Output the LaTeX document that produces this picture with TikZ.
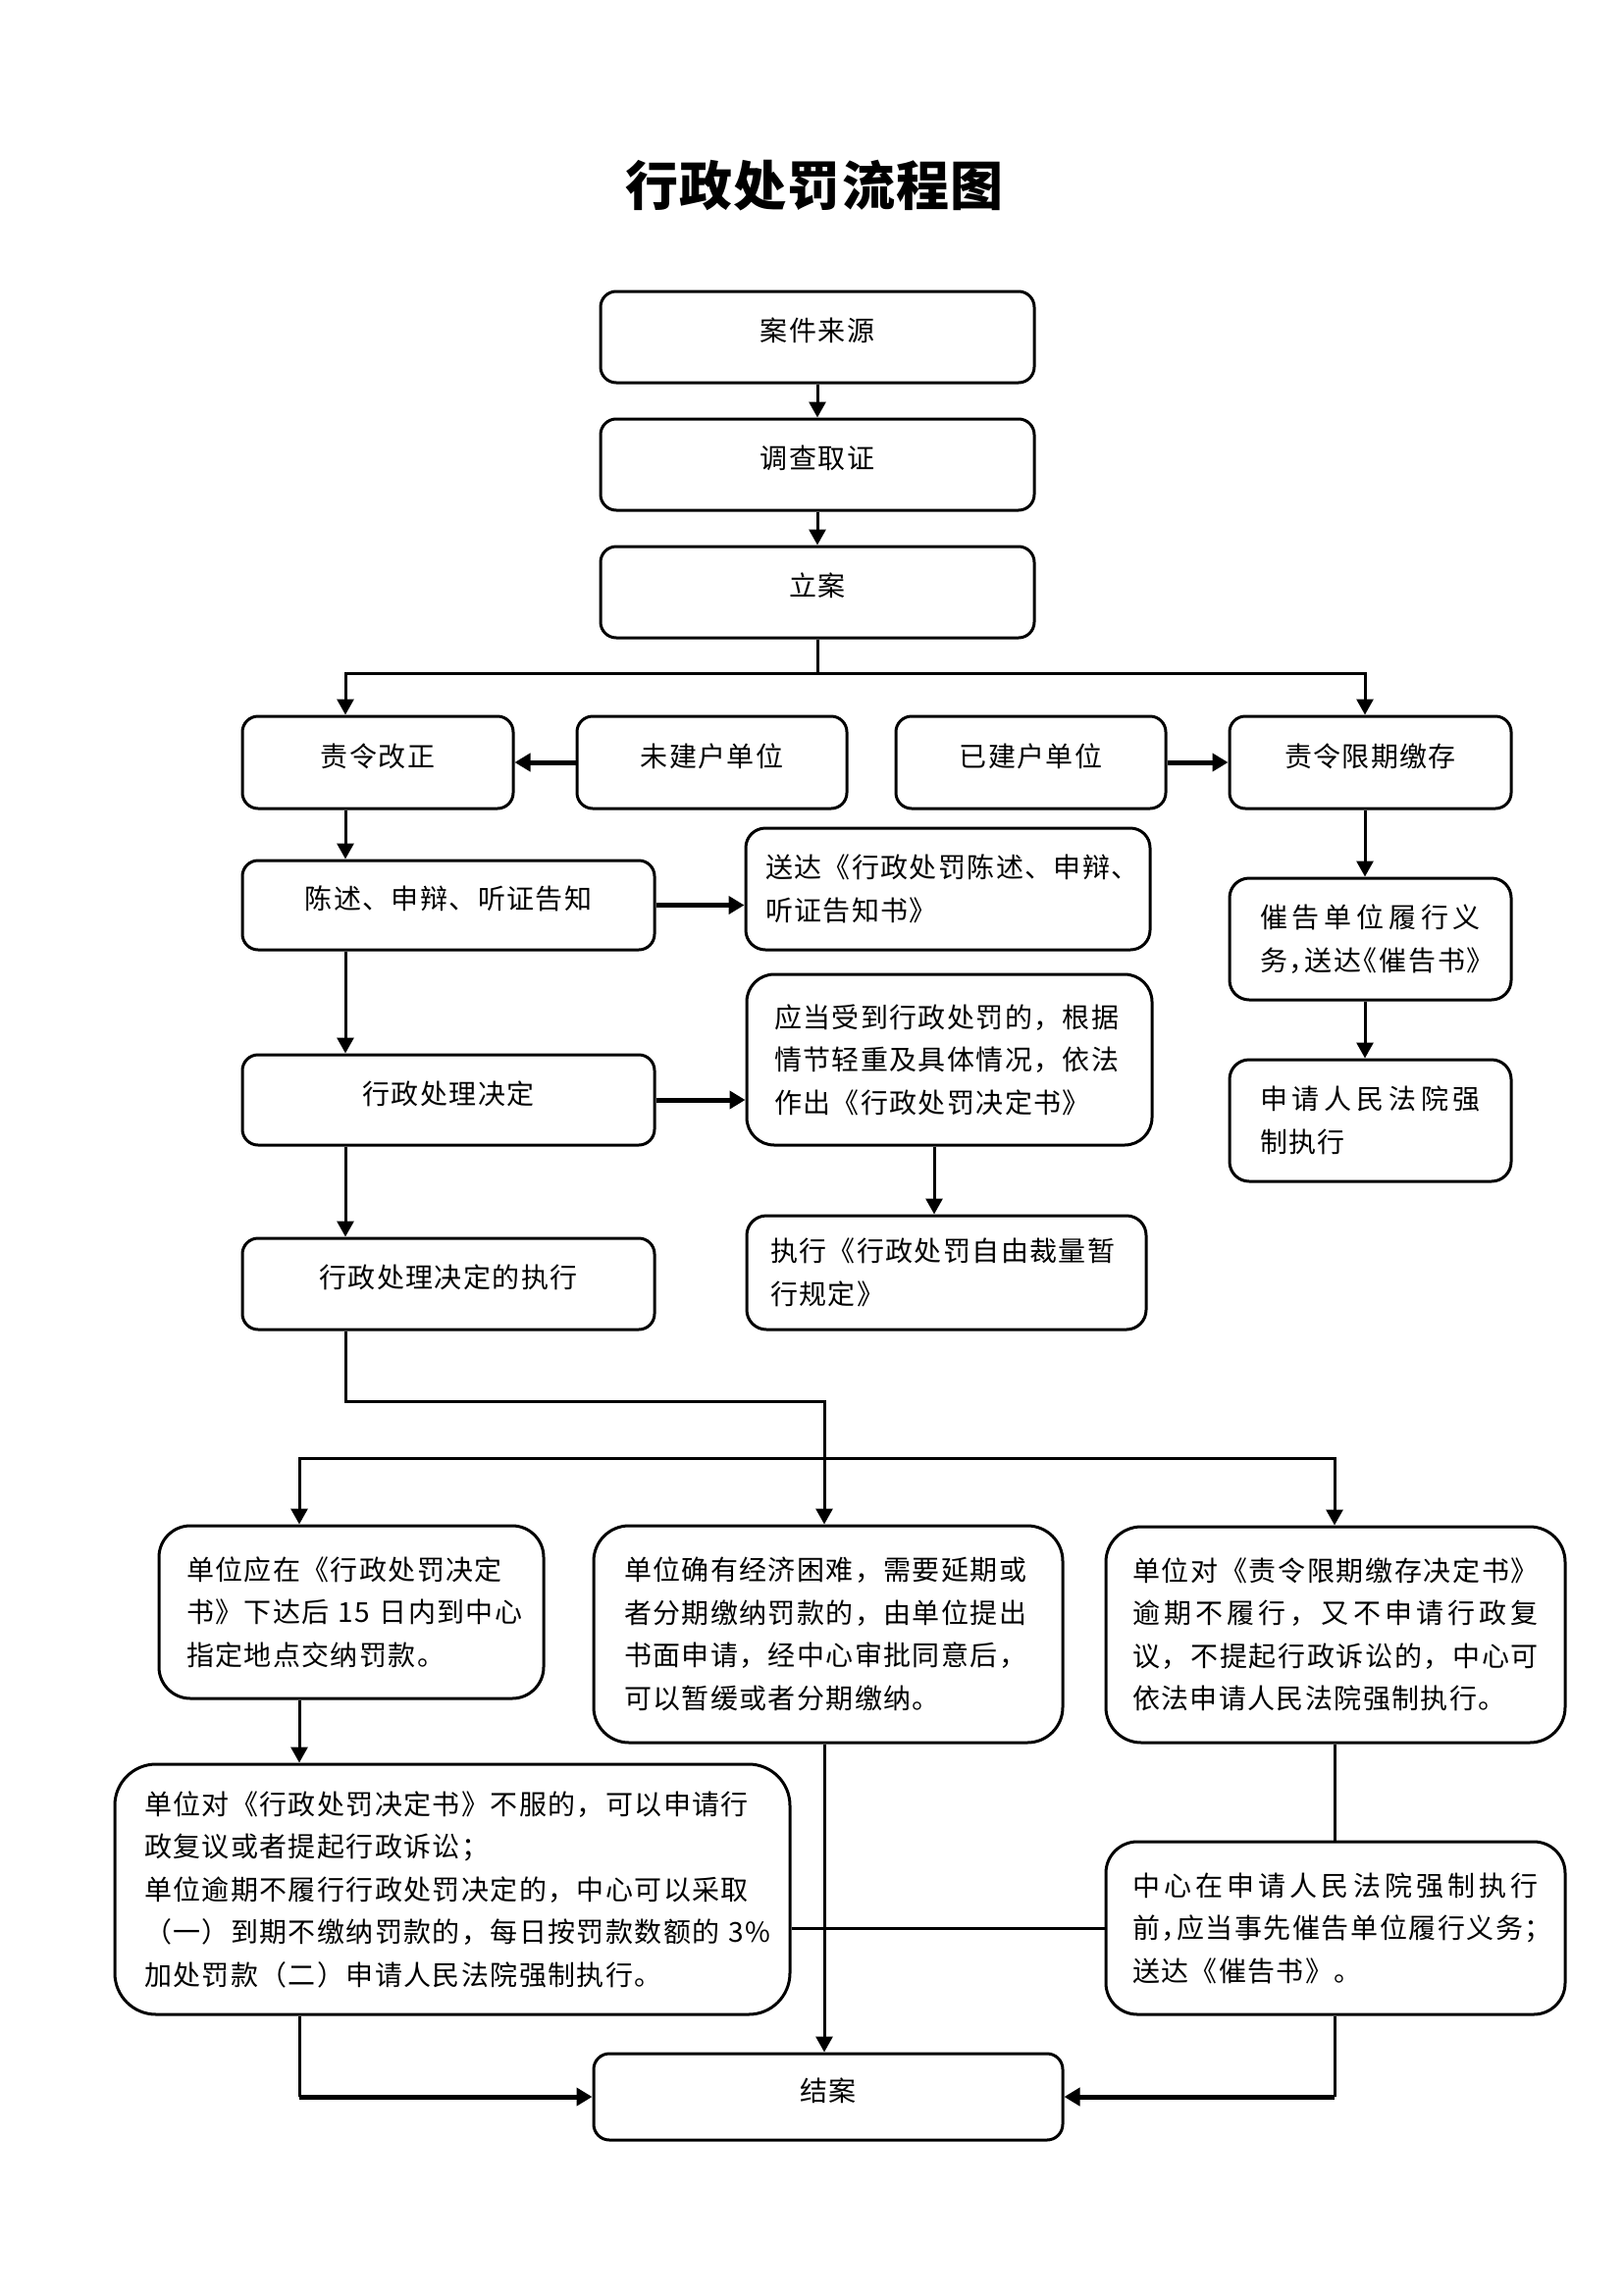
\documentclass[tikz,border=0pt]{standalone}
\usepackage{fontspec}
\setmainfont{Noto Sans CJK SC}[LetterSpace=5]
\newfontfamily\titlefont{Noto Sans CJK SC}[LetterSpace=2]
\usetikzlibrary{arrows.meta}
\def\jsA#1{#1\jsB}
\def\jsB#1{\ifx\relax#1\else\hfil#1\expandafter\jsB\fi}
\newcommand\jl[2]{\leavevmode\hbox to #1{\jsA#2\relax}}
\newcommand\jlh[2]{\leavevmode\hbox to #1{\addfontfeatures{RawFeature=+halt}\jsA#2\relax}}
\newcommand\bx[8]{\node[pbox,rounded corners=#6pt,minimum width={#4pt-#2pt},minimum height={#5pt-#3pt},#7] (#1) at ({(#2+#4)/2},{(#3+#5)/2}) {#8};}
\begin{document}
\begin{tikzpicture}[x=1pt,y=-1pt,
  font=\fontsize{28pt}{43.5pt}\selectfont,
  pbox/.style={draw,line width=3pt,inner sep=0pt},
  sl/.style={align=center,text height=22pt,text depth=14pt},
  ml/.style={align=left,text width=#1},
  con/.style={line width=3pt},
  arr/.style={con,-{Triangle[length=16pt,width=17pt]}},
  tarr/.style={line width=5pt,-{Triangle[length=16pt,width=18pt]}}]
\useasboundingbox[fill=white] (0,0) rectangle (1654,2339);
\node[font=\titlefont\bfseries\fontsize{54pt}{60pt}\selectfont] (title) at (830,189) {行政处罚流程图};
\bx{ajly}{612}{297}{1054}{390}{16}{sl}{案件来源}
\bx{dcqz}{612}{427}{1054}{520}{16}{sl}{调查取证}
\bx{la}{612}{557}{1054}{650}{16}{sl}{立案}
\bx{zlgz}{247}{730}{523}{824}{16}{sl}{责令改正}
\bx{wjh}{588}{730}{863}{824}{16}{sl}{未建户单位}
\bx{yjh}{913}{730}{1188}{824}{16}{sl}{已建户单位}
\bx{zlxq}{1253}{730}{1540}{824}{16}{sl}{责令限期缴存}
\bx{cs}{247}{877}{667}{968}{16}{sl}{陈述、申辩、听证告知}
\bx{sd}{760}{844}{1172}{968}{20}{ml=372pt}{送达《行政处罚陈述、申辩、\\听证告知书》}
\bx{cg}{1253}{895}{1540}{1019}{20}{ml=225pt}{\jl{225pt}{催告单位履行义}\\\jlh{225pt}{务，送达《催告书》}}
\bx{sq}{1253}{1080}{1540}{1204}{20}{ml=225pt}{\jl{225pt}{申请人民法院强}\\制执行}
\bx{xzcl}{247}{1075}{667}{1167}{16}{sl}{行政处理决定}
\bx{yd}{761}{993}{1174}{1167}{28}{ml=357pt}{应当受到行政处罚的，根据\\情节轻重及具体情况，依法\\作出《行政处罚决定书》}
\bx{zx}{761}{1239}{1168}{1355}{20}{ml=359pt}{执行《行政处罚自由裁量暂\\行规定》}
\bx{xzzx}{247}{1262}{667}{1355}{16}{sl}{行政处理决定的执行}
\bx{Lone}{162}{1555}{554}{1731}{32}{ml=336pt}{单位应在《行政处罚决定\\\mbox{书》下达后 15 日内到中心}\\指定地点交纳罚款。}
\bx{Mid}{605}{1555}{1083}{1776}{36}{ml=416pt}{单位确有经济困难，需要延期或\\者分期缴纳罚款的，由单位提出\\书面申请，经中心审批同意后，\\可以暂缓或者分期缴纳。}
\bx{Rone}{1127}{1556}{1595}{1776}{36}{ml=414pt}{\jl{414pt}{单位对《责令限期缴存决定书》}\\\jl{414pt}{逾期不履行，又不申请行政复}\\\jl{414pt}{议，不提起行政诉讼的，中心可}\\依法申请人民法院强制执行。}
\bx{Ltwo}{117}{1798}{805}{2053}{42}{ml=628pt}{单位对《行政处罚决定书》不服的，可以申请行\\政复议或者提起行政诉讼；\\单位逾期不履行行政处罚决定的，中心可以采取\\\mbox{（一）到期不缴纳罚款的，每日按罚款数额的 3\%}\\加处罚款（二）申请人民法院强制执行。}
\bx{Rtwo}{1127}{1877}{1595}{2053}{32}{ml=414pt}{\jl{414pt}{中心在申请人民法院强制执行}\\\jlh{414pt}{前，应当事先催告单位履行义务；}\\送达《催告书》。}
\bx{ja}{605}{2093}{1083}{2181}{16}{sl}{结案}
\coordinate (jL) at (352,686);
\coordinate (jR) at (1391,686);
\coordinate (jY) at (952,0);
\coordinate (jB) at (840,1428);
\coordinate (jC1) at (305,1486);
\coordinate (jC2) at (1360,1486);
\draw[arr] (ajly.south) -- (dcqz.north);
\draw[arr] (dcqz.south) -- (la.north);
\draw[arr] (la.south) |- (jL) -- (zlgz.north -| jL);
\draw[arr] (la.south) |- (jR) -- (zlxq.north -| jR);
\draw[tarr] (wjh.west) -- (zlgz.east);
\draw[tarr] (yjh.east) -- (zlxq.west);
\draw[arr] (zlgz.south -| jL) -- (cs.north -| jL);
\draw[tarr] (cs.east) -- (cs.east -| sd.west);
\draw[arr] (zlxq.south -| jR) -- (cg.north -| jR);
\draw[arr] (cg.south -| jR) -- (sq.north -| jR);
\draw[arr] (cs.south -| jL) -- (xzcl.north -| jL);
\draw[tarr] (xzcl.east) -- (xzcl.east -| yd.west);
\draw[arr] (yd.south -| jY) -- (zx.north -| jY);
\draw[arr] (xzcl.south -| jL) -- (xzzx.north -| jL);
\draw[arr] (xzzx.south -| jL) |- (jB) -- (Mid.north -| jB);
\draw[arr] (jC1 -| jB) -- (jC1) -- (Lone.north -| jC1);
\draw[arr] (jC1 -| jB) -- (jC2) -- (Rone.north -| jC2);
\draw[arr] (Lone.south -| jC1) -- (Ltwo.north -| jC1);
\draw[con] (Rone.south -| jC2) -- (Rtwo.north -| jC2);
\draw[con] (Ltwo.east |- Rtwo.west) -- (Rtwo.west);
\draw[arr] (Mid.south -| jB) -- (ja.north -| jB);
\draw[con] (Ltwo.south -| jC1) -- (jC1 |- ja.west);
\draw[tarr] (jC1 |- ja.west) -- (ja.west);
\draw[con] (Rtwo.south -| jC2) -- (jC2 |- ja.east);
\draw[tarr] (jC2 |- ja.east) -- (ja.east);
\end{tikzpicture}
\end{document}
